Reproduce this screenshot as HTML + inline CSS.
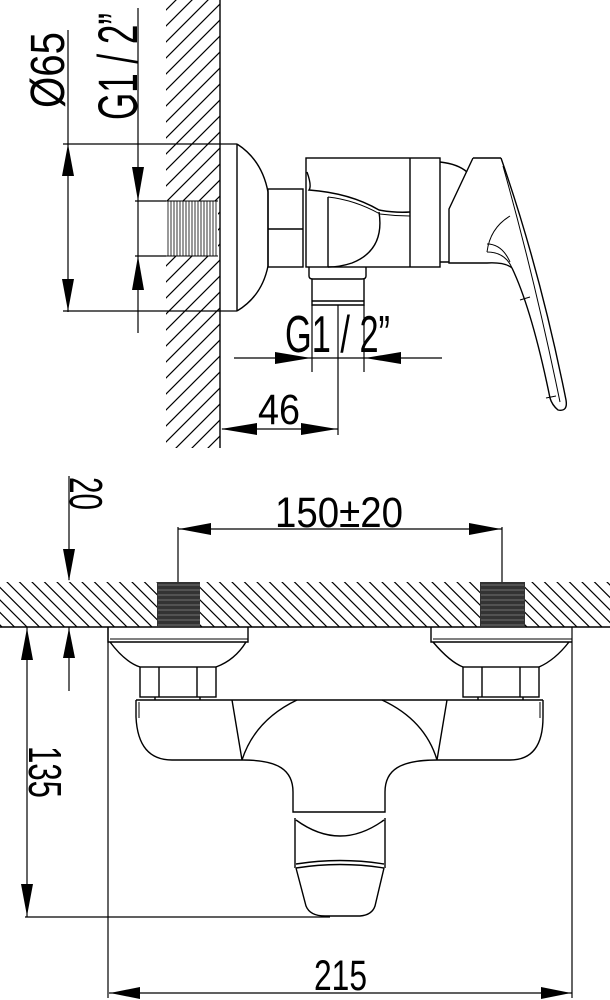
<!DOCTYPE html>
<html><head><meta charset="utf-8"><style>
html,body{margin:0;padding:0;background:#fff;}
svg{display:block;}
text{font-family:"Liberation Sans",sans-serif;fill:#000;}
</style></head><body>
<svg width="610" height="1000" viewBox="0 0 610 1000" xmlns="http://www.w3.org/2000/svg">
<defs>
<pattern id="h1" patternUnits="userSpaceOnUse" width="16" height="16">
<path d="M0,16 L16,0 M-4,4 L4,-4 M12,20 L20,12" stroke="#000" stroke-width="1.2"/>
</pattern>
<pattern id="h2" patternUnits="userSpaceOnUse" width="12.5" height="12.5">
<path d="M0,0 L12.5,12.5 M-3,9.5 L3,15.5 M9.5,-3 L15.5,3" stroke="#000" stroke-width="1.2"/>
</pattern>
</defs>
<g fill="none" stroke="#000" stroke-width="1.4">
<rect x="166" y="0" width="54" height="448" fill="url(#h1)" stroke="none"/>
<line x1="220" y1="0" x2="220" y2="448"/>
<rect x="166" y="201" width="52" height="55" fill="#fff" stroke="none"/>
<path d="M168,201 V256 M171,201 V256 M174,201 V256 M177,201 V256 M180,201 V256 M183,201 V256 M186,201 V256 M189,201 V256 M192,201 V256 M195,201 V256 M198,201 V256 M201,201 V256 M204,201 V256 M207,201 V256 M210,201 V256 M213,201 V256 M216,201 V256" stroke-width="0.8"/>
<path d="M166,201 H218 M166,256 H218" stroke-width="1"/>
<path d="M63,144 H237 M63,311 H237 M135,201 H166 M135,256 H166" stroke-width="1.2"/>
<path d="M68,30 V312 M138,8 V333" stroke-width="1.2"/>
<path d="M237,144 V311 M237,144 Q262,160 268,192 L268,266 Q262,296 237,311"/>
<rect x="268" y="189" width="35" height="78"/>
<line x1="268" y1="229" x2="303" y2="229"/>
<rect x="306" y="158" width="134" height="109"/>
<line x1="410" y1="158" x2="410" y2="267"/>
<path d="M307,172 Q312,186 309,190 Q350,193 379,210 Q395,213 410,212"/>
<path d="M328,197 Q355,200 380,214 Q395,216 410,216" stroke-width="1"/>
<path d="M328,197 V267 M379,212 Q385,250 352,263 Q340,267 328,267"/>
<path d="M440,162 Q458,164 467,172 M440,262 H449"/>
<path d="M309,267 V276 Q309,279 313,279 H362 Q366,279 366,276 V267"/>
<path d="M312,279 V305 H364 V279 M312,301 H364" />
<path d="M473,158 H501 M473,158 L449,209 L449,263 L487,263 Q505,262 512,268"/>
<path d="M501,158 Q540,270 566,400 Q568,412 558,410 Q552,405 550,398 Q532,310 512,268"/>
<path d="M503,166 Q535,280 560,402" stroke-width="1"/>
<path d="M510,216 Q490,228 487,252 M487,252 Q505,252 512,268 M487,244 Q502,244 510,262" stroke-width="1"/>
<path d="M520,300 L530,297 M546,398 L556,396" stroke-width="1"/>
<path d="M234,358 H442 M312,305 V372 M364,305 V372 M338,305 V435" stroke-width="1.2"/>
<path d="M222,429 H338" stroke-width="1.2"/>
</g>
<g fill="#000" stroke="none">
<polygon points="68,144 62,176 74,176"/>
<polygon points="68,311 62,279 74,279"/>
<polygon points="138,201 132,167 144,167"/>
<polygon points="138,256 132,290 144,290"/>
<polygon points="311,358 275,352 275,364"/>
<polygon points="365,358 401,352 401,364"/>
<polygon points="221,429 257,423 257,435"/>
<polygon points="337,429 301,423 301,435"/>
</g>
<text transform="translate(64,108) rotate(-90)" font-size="48" textLength="76" lengthAdjust="spacingAndGlyphs">Ø65</text>
<text transform="translate(137,120) rotate(-90)" font-size="56" textLength="107" lengthAdjust="spacingAndGlyphs">G1 / 2”</text>
<text x="285" y="352" font-size="52" textLength="105" lengthAdjust="spacingAndGlyphs">G1 / 2”</text>
<text x="258" y="424" font-size="43" textLength="42" lengthAdjust="spacingAndGlyphs">46</text>

<g fill="none" stroke="#000" stroke-width="1.4">
<rect x="0" y="582" width="610" height="45" fill="url(#h2)" stroke="none"/>
<line x1="0" y1="627" x2="610" y2="627"/>
<rect x="157" y="582" width="43" height="45" fill="#333" stroke="none"/>
<rect x="480" y="582" width="45" height="45" fill="#333" stroke="none"/>
<path d="M158,585 H200 M158,590 H200 M158,595 H200 M158,600 H200 M158,605 H200 M158,610 H200 M158,615 H200 M158,620 H200 M158,625 H200" stroke="#888" stroke-width="0.8"/>
<path d="M481,585 H524 M481,590 H524 M481,595 H524 M481,600 H524 M481,605 H524 M481,610 H524 M481,615 H524 M481,620 H524 M481,625 H524" stroke="#888" stroke-width="0.8"/>
<path d="M108,627 V642 H248 V627 M110,642 Q125,662 140,667 M216,667 Q235,660 246,642"/>
<path d="M431,627 V642 H572 M433,642 Q450,662 463,667 M539,667 Q555,660 569,642"/>
<path d="M110,639 H248 M433,639 H572" stroke-width="0.9"/>
<rect x="140" y="667" width="76" height="30"/>
<path d="M159,667 V697 M197,667 V697 M155,697 V700 M200,697 V700"/>
<rect x="463" y="667" width="76" height="30"/>
<path d="M482,667 V697 M520,667 V697 M478,697 V700 M523,697 V700"/>
<path d="M136,700 H543"/>
<path d="M136,700 V717 Q138,760 172,760 L243,760 C278,760 293,770 293,792 L293,812 H385 L385,792 C385,770 400,760 437,760 L510,760 Q543,760 543,717 V700"/>
<path d="M139,702 V718 M540,702 V718" stroke-width="1"/>
<path d="M232,700 L242,760 M297,700 Q255,720 242,760 M447,700 L437,760 M382,700 Q425,720 437,760"/>
<path d="M295,818 V868 M385,818 V868 M296,820 Q340,852 384,820"/>
<path d="M296,864 Q340,857 384,864 M296,868 Q340,861 384,868"/>
<path d="M296,868 L306,906 Q310,916 325,916 H360 Q372,915 375,906 L384,868"/>
<path d="M69,476 V580 M69,627 V691" stroke-width="1.2"/>
<path d="M27,627 V917 M25,917 H330" stroke-width="1.2"/>
<path d="M178,529 H502 M178,527 V582 M502,527 V582" stroke-width="1.2"/>
<path d="M108,627 V998 M572,627 V998 M109,993 H572" stroke-width="1.2"/>
</g>
<g fill="#000" stroke="none">
<polygon points="69,581 63,549 75,549"/>
<polygon points="69,628 63,658 75,658"/>
<polygon points="27,628 21,660 33,660"/>
<polygon points="27,916 21,884 33,884"/>
<polygon points="179,529 211,523 211,535"/>
<polygon points="501,529 469,523 469,535"/>
<polygon points="110,993 140,987 140,999"/>
<polygon points="571,993 541,987 541,999"/>
</g>
<text transform="translate(70,477) rotate(90)" font-size="46" textLength="33" lengthAdjust="spacingAndGlyphs">20</text>
<text transform="translate(29,746) rotate(90)" font-size="46" textLength="52" lengthAdjust="spacingAndGlyphs">135</text>
<text x="275" y="527" font-size="43" textLength="128" lengthAdjust="spacingAndGlyphs">150±20</text>
<text x="314" y="990" font-size="43" textLength="53" lengthAdjust="spacingAndGlyphs">215</text>
</svg>
</body></html>
